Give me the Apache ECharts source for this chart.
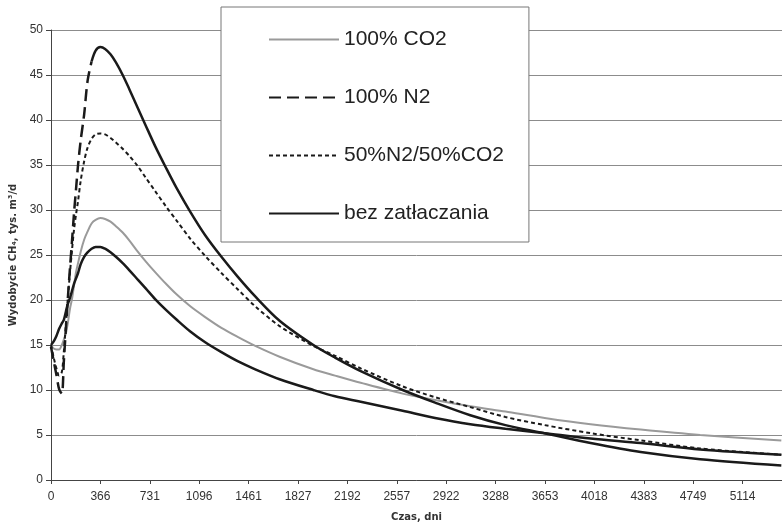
<!DOCTYPE html>
<html>
<head>
<meta charset="utf-8">
<script src="https://cdn.jsdelivr.net/npm/echarts@6/dist/echarts.min.js"></script>
<style>
html, body { margin: 0; padding: 0; background: #fff; }
#chartWydobycie { width: 782px; height: 523px; }
</style>
</head>
<body>
<div id="chartWydobycie"></div>
<script>
// czas, dni
var days = [0, 20, 40, 60, 80, 95, 110, 125, 140, 155, 170, 185, 200, 220, 245, 270, 300, 330, 365, 400,
    440, 480, 530, 580, 640, 700, 770, 850, 930, 1030, 1140, 1260, 1380, 1510, 1690, 1940, 2100, 2290,
    2600, 2840, 3100, 3360, 3650, 3990, 4360, 4800, 5400];

// wydobycie CH4, tys. m3/d
var co2Values = [15, 14.6, 14.5, 14.5, 15.0, 15.6, 16.3, 17.5, 19.0, 20.1, 21.6, 23.1, 24.1, 25.4, 26.7, 27.6, 28.5, 28.9, 29.1, 29.0,
    28.7, 28.2, 27.5, 26.6, 25.4, 24.3, 23.1, 21.8, 20.6, 19.3, 18.1, 16.9, 15.9, 14.9, 13.7, 12.3, 11.6, 10.8,
    9.6, 8.9, 8.2, 7.6, 6.9, 6.2, 5.6, 5.0, 4.4];
var n2Values = [14.8, 13.2, 11.7, 10.1, 9.6, 13.2, 16.8, 20.3, 23.5, 26.5, 29.6, 32.3, 35.0, 37.8, 40.6, 44.3, 46.5, 47.7, 48.1, 47.9,
    47.3, 46.4, 45.0, 43.4, 41.4, 39.4, 37.1, 34.7, 32.4, 29.8, 27.2, 24.8, 22.6, 20.4, 17.7, 15.0, 13.6, 12.1,
    10.0, 8.6, 7.2, 6.1, 5.2, 4.1, 3.1, 2.3, 1.6];
var mixValues = [15, 13.6, 12.4, 11.6, 12.0, 14.3, 17.3, 20.3, 23.0, 25.5, 27.8, 29.5, 31.0, 33.3, 35.4, 36.9, 37.9, 38.4, 38.5, 38.4,
    38.0, 37.5, 36.8, 36.0, 34.9, 33.6, 32.1, 30.4, 28.8, 26.8, 24.9, 23.0, 21.2, 19.3, 17.1, 14.9, 13.8, 12.4,
    10.4, 9.2, 8.1, 7.0, 6.1, 5.2, 4.4, 3.5, 2.8];
var bezValues = [15, 15.4, 16.0, 16.8, 17.4, 17.8, 18.7, 19.6, 20.2, 21.0, 21.8, 22.4, 23.0, 24.0, 24.8, 25.3, 25.7, 25.9, 25.9, 25.7,
    25.3, 24.8, 24.1, 23.3, 22.3, 21.3, 20.1, 18.9, 17.8, 16.5, 15.3, 14.2, 13.2, 12.3, 11.2, 10.0, 9.3, 8.7,
    7.7, 6.9, 6.2, 5.7, 5.2, 4.6, 4.1, 3.4, 2.8];

var xTickLabels = ['0', '366', '731', '1096', '1461', '1827', '2192', '2557', '2922', '3288', '3653', '4018', '4383', '4749', '5114'];
var legendNames = ['100% CO2', '100% N2', '50%N2/50%CO2', 'bez zatłaczania'];

var fontFam = '"Liberation Sans", Arial, "DejaVu Sans", sans-serif';
var nameFam = '"DejaVu Sans", "Liberation Sans", sans-serif';

function pairs(values, from, to) {
    var out = [];
    for (var i = from; i < to; i++) {
        out.push([days[i], values[i]]);
    }
    return out;
}
// w Excelu kreski N2 widac tylko na stromym wzroscie, dalej linia wyglada na ciagla
var n2Split = days.indexOf(300);

var myChart = echarts.init(document.getElementById('chartWydobycie'));
var option = {
    animation: false,
    backgroundColor: '#fff',
    grid: {
        left: 51,
        right: 0,
        top: 30,
        bottom: 43,
        outerBoundsMode: 'none'
    },
    legend: {
        data: legendNames,
        orient: 'vertical',
        left: 221,
        top: 7,
        itemWidth: 70,
        itemHeight: 14,
        itemGap: 37,
        padding: [22, 25, 18, 47],
        backgroundColor: '#fff',
        borderColor: '#777',
        borderWidth: 1,
        borderRadius: 0,
        selectedMode: false,
        itemStyle: { opacity: 0 },
        textStyle: {
            fontFamily: fontFam,
            fontSize: 21,
            color: '#222'
        }
    },
    xAxis: {
        type: 'value',
        min: 0,
        max: 5405,
        interval: 365.25,
        name: 'Czas, dni',
        nameLocation: 'middle',
        nameGap: 32,
        nameTextStyle: {
            fontFamily: nameFam,
            fontSize: 10,
            fontWeight: 'bold',
            color: '#333'
        },
        axisLine: { show: true, lineStyle: { color: '#444', width: 1 } },
        axisTick: { show: true, length: 4, lineStyle: { color: '#444' } },
        axisLabel: {
            margin: 11,
            fontFamily: fontFam,
            fontSize: 12,
            color: '#333',
            showMaxLabel: false,
            formatter: function (v) {
                var lab = xTickLabels[Math.round(v / 365.25)];
                return lab === undefined ? '' : lab;
            }
        },
        splitLine: { show: false }
    },
    yAxis: {
        type: 'value',
        min: 0,
        max: 50,
        interval: 5,
        name: 'Wydobycie CH₄, tys. m³/d',
        nameLocation: 'middle',
        nameRotate: 90,
        nameGap: 26,
        nameTextStyle: {
            fontFamily: nameFam,
            fontSize: 10,
            fontWeight: 'bold',
            color: '#333'
        },
        axisLine: { show: true, lineStyle: { color: '#444', width: 1 } },
        axisTick: { show: true, length: 5, lineStyle: { color: '#444' } },
        axisLabel: {
            margin: 8,
            fontFamily: fontFam,
            fontSize: 12,
            color: '#333'
        },
        splitLine: { show: true, lineStyle: { color: '#8c8c8c', width: 1 } }
    },
    series: [
        {
            name: '100% CO2',
            type: 'line',
            symbol: 'none',
            smooth: 0.3,
            lineStyle: { color: '#9a9a9a', width: 2 },
            itemStyle: { color: '#9a9a9a' },
            data: pairs(co2Values, 0, days.length)
        },
        {
            name: '100% N2',
            type: 'line',
            symbol: 'none',
            smooth: 0.3,
            lineStyle: { color: '#1a1a1a', width: 2.5, type: [12, 6] },
            itemStyle: { color: '#1a1a1a' },
            data: pairs(n2Values, 0, n2Split + 1)
        },
        {
            name: '100% N2',
            type: 'line',
            symbol: 'none',
            smooth: 0.3,
            lineStyle: { color: '#1a1a1a', width: 2.5 },
            itemStyle: { color: '#1a1a1a' },
            data: pairs(n2Values, n2Split, days.length)
        },
        {
            name: '50%N2/50%CO2',
            type: 'line',
            symbol: 'none',
            smooth: 0.3,
            lineStyle: { color: '#1a1a1a', width: 2, type: [4, 3] },
            itemStyle: { color: '#1a1a1a' },
            data: pairs(mixValues, 0, days.length)
        },
        {
            name: 'bez zatłaczania',
            type: 'line',
            symbol: 'none',
            smooth: 0.3,
            lineStyle: { color: '#1a1a1a', width: 2.5 },
            itemStyle: { color: '#1a1a1a' },
            data: pairs(bezValues, 0, days.length)
        }
    ]
};
myChart.setOption(option);
</script>
</body>
</html>
